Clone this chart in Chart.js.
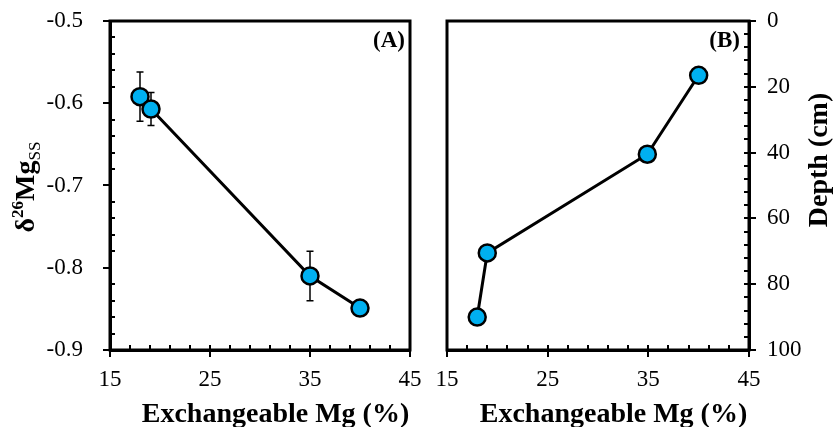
<!DOCTYPE html>
<html lang="en">
<head>
<meta charset="UTF-8">
<title>Exchangeable Mg</title>
<style>
  body { margin: 0; background: #fff; }
  #wrap { position: relative; width: 834px; height: 427px; }
  canvas { position: absolute; top: 0; }
  #left { left: 0; }
  #right { left: 425px; }
</style>
<script src="https://cdn.jsdelivr.net/npm/chart.js"></script>
</head>
<body>
<div id="wrap">
  <canvas id="left" width="425" height="427"></canvas>
  <canvas id="right" width="409" height="427"></canvas>
</div>
<script>
// panel A: exchangeable Mg (%) vs d26Mg of soil solution, with error bars
var mgA = [18.0, 19.1, 35.0, 40.0];
var deltaA = [-0.592, -0.607, -0.810, -0.849];
var errA = [0.03, 0.02, 0.03, 0];

// panel B: exchangeable Mg (%) vs depth (cm)
var mgB = [40.0, 34.9, 19.0, 18.0];
var depthB = [16.5, 40.5, 70.5, 90.0];

var SERIF = "'Liberation Serif', 'Times New Roman', serif";
Chart.defaults.font.family = SERIF;
Chart.defaults.font.size = 23;
Chart.defaults.color = '#000';

function pts(xs, ys) {
  return xs.map(function (x, i) { return { x: x, y: ys[i] }; });
}

// frame, tick marks, error bars and titles
var deco = {
  id: 'deco',
  beforeDatasetsDraw: function (chart, args, o) {
    var ctx = chart.ctx, a = chart.chartArea;
    var xs = chart.scales.x, ys = chart.scales.y;
    ctx.save();
    ctx.strokeStyle = '#000';
    ctx.lineWidth = 2;
    ctx.beginPath();
    // x: minor ticks inside, major ticks cross the axis
    var n = Math.round((xs.max - xs.min) / o.xMinor);
    for (var i = 0; i <= n; i++) {
      var px = Math.round(xs.getPixelForValue(xs.min + i * o.xMinor));
      ctx.moveTo(px, i % 5 === 0 ? a.bottom + 7 : a.bottom);
      ctx.lineTo(px, a.bottom - 5);
    }
    // y: minor inside, major outside (or crossing)
    var edge = o.yRight ? a.right : a.left, dir = o.yRight ? -1 : 1;
    n = Math.round((ys.max - ys.min) / o.yMinor);
    for (i = 0; i <= n; i++) {
      var py = Math.round(ys.getPixelForValue(ys.min + i * o.yMinor));
      if (i % 5 === 0) {
        ctx.moveTo(edge - dir * 7, py);
        ctx.lineTo(o.yCross ? edge + dir * 5 : edge, py);
      } else {
        ctx.moveTo(edge, py);
        ctx.lineTo(edge + dir * 5, py);
      }
    }
    ctx.stroke();

    ctx.lineWidth = 3;
    ctx.strokeRect(a.left, a.top, a.right - a.left, a.bottom - a.top);

    if (o.err) {
      ctx.lineWidth = 1.5;
      ctx.beginPath();
      o.err.forEach(function (e, k) {
        if (!e) return;
        var x = xs.getPixelForValue(o.ex[k]);
        var y1 = ys.getPixelForValue(o.ey[k] + e);
        var y2 = ys.getPixelForValue(o.ey[k] - e);
        ctx.moveTo(x, y1); ctx.lineTo(x, y2);
        ctx.moveTo(x - 3.5, y1); ctx.lineTo(x + 3.5, y1);
        ctx.moveTo(x - 3.5, y2); ctx.lineTo(x + 3.5, y2);
      });
      ctx.stroke();
    }
    ctx.restore();
  },
  afterDraw: function (chart, args, o) {
    var ctx = chart.ctx;
    ctx.save();
    ctx.fillStyle = '#000';
    // panel label
    ctx.font = 'bold 23px ' + SERIF;
    ctx.textAlign = 'right';
    ctx.textBaseline = 'middle';
    ctx.fillText(o.label, o.labelX, 41);
    // x title
    ctx.font = 'bold 28px ' + SERIF;
    ctx.textAlign = 'center';
    ctx.textBaseline = 'alphabetic';
    ctx.fillText('Exchangeable Mg (%)', o.xTitleX, 422);
    // y title, rotated, read bottom to top
    ctx.translate(o.yTitleX, o.yTitleY);
    ctx.rotate(-Math.PI / 2);
    ctx.textAlign = 'left';
    var total = 0;
    o.yTitle.forEach(function (p) { ctx.font = p[1]; total += ctx.measureText(p[0]).width; });
    var cx = -total / 2;
    o.yTitle.forEach(function (p) {
      ctx.font = p[1];
      ctx.fillText(p[0], cx, p[2]);
      cx += ctx.measureText(p[0]).width;
    });
    ctx.restore();
  }
};

var noTicks = 'rgba(0,0,0,0)';

function makeChart(id, xs, ys, o) {
  return new Chart(document.getElementById(id), {
    type: 'scatter',
    data: {
      datasets: [{
        data: pts(xs, ys),
        showLine: true,
        borderColor: '#000',
        borderWidth: 3,
        pointRadius: 8.5,
        pointBackgroundColor: '#00B0F0',
        pointBorderColor: '#000',
        pointBorderWidth: 2.5,
        clip: false
      }]
    },
    options: {
      responsive: false,
      animation: false,
      devicePixelRatio: 1,
      layout: { padding: { left: o.padL, right: o.padR, top: 21, bottom: 0 } },
      plugins: { legend: { display: false }, tooltip: { enabled: false }, deco: o },
      scales: {
        x: {
          type: 'linear', min: 15, max: 45,
          ticks: { stepSize: 10, padding: 0 },
          grid: { drawOnChartArea: false, tickLength: 16, tickColor: noTicks },
          border: { color: '#000', width: 3 },
          afterFit: function (s) { s.height = 77; }
        },
        y: {
          type: 'linear', position: o.yRight ? 'right' : 'left', reverse: o.reverse,
          min: o.yMin, max: o.yMax,
          ticks: { stepSize: o.yStep, padding: 0 },
          // tick marks drawn by the deco plugin; the gap keeps labels off the axis
          grid: { drawOnChartArea: false, tickLength: o.yGap, tickColor: noTicks },
          border: { color: '#000', width: 3 },
          afterFit: function (s) { s.width = o.yW; }
        }
      }
    },
    plugins: [deco]
  });
}

makeChart('left', mgA, deltaA, {
  padL: 0, padR: 15, yW: 110, yGap: 27, yRight: false, reverse: false,
  yMin: -0.9, yMax: -0.5, yStep: 0.1,
  xMinor: 2, yMinor: 0.02, yCross: false,
  err: errA, ex: mgA, ey: deltaA,
  label: '(A)', labelX: 405, xTitleX: 275.5,
  yTitleX: 34, yTitleY: 187,
  yTitle: [['δ', 'bold 28px ' + SERIF, 0], ['26', 'bold 17px ' + SERIF, -11],
           ['Mg', 'bold 28px ' + SERIF, 0], ['SS', '17px ' + SERIF, 6]]
});

makeChart('right', mgB, depthB, {
  padL: 22, padR: 0, yW: 85, yGap: 18, yRight: true, reverse: true,
  yMin: 0, yMax: 100, yStep: 20,
  xMinor: 2, yMinor: 4, yCross: true,
  label: '(B)', labelX: 315, xTitleX: 188.5,
  yTitleX: 402, yTitleY: 160,
  yTitle: [['Depth (cm)', 'bold 28px ' + SERIF, 0]]
});
</script>
</body>
</html>
